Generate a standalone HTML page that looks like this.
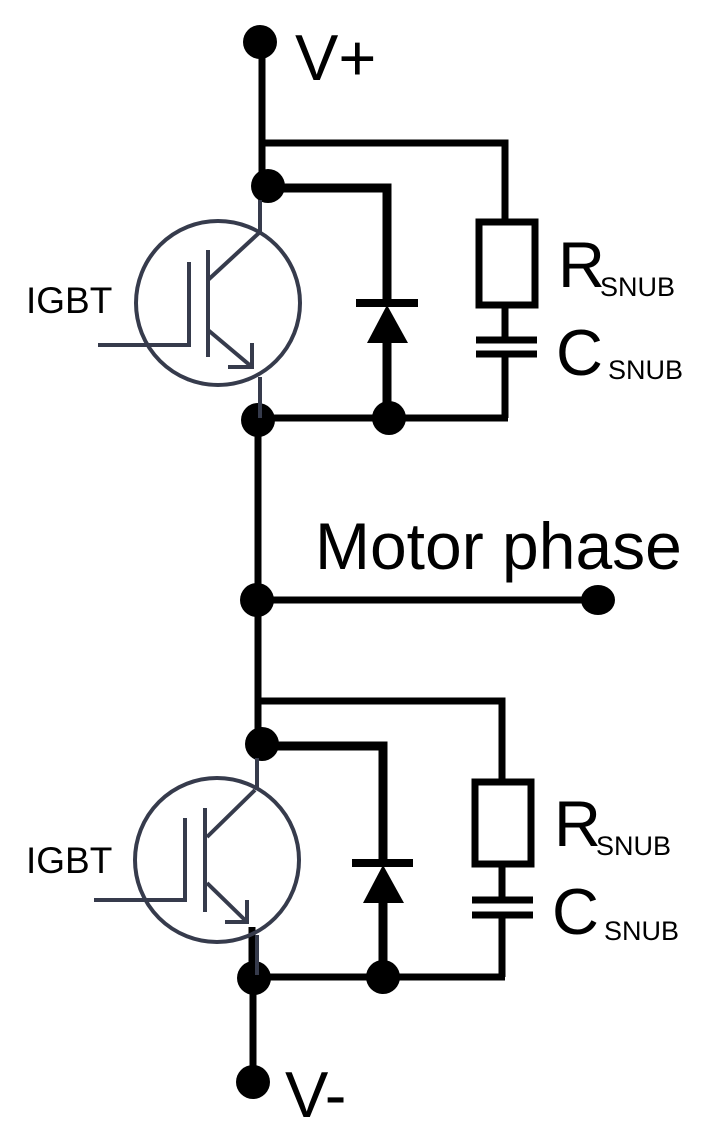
<!DOCTYPE html>
<html><head><style>html,body{margin:0;padding:0;background:#fff;}svg{display:block}</style></head>
<body>
<svg width="717" height="1142" viewBox="0 0 717 1142" xmlns="http://www.w3.org/2000/svg" font-family="Liberation Sans, Arial, sans-serif">
<rect width="717" height="1142" fill="#fff"/>
<g fill="none" stroke="#000" stroke-width="7">
  <line x1="262" y1="42" x2="262" y2="190"/>
  <polyline points="262,143 505,143 505,220"/>
  <rect x="479" y="222" width="56" height="83"/>
  <line x1="505" y1="305" x2="505" y2="340"/>
  <line x1="505" y1="354" x2="505" y2="418"/>
  <line x1="258" y1="418" x2="508" y2="418"/>
  <line x1="258" y1="418" x2="258" y2="745"/>
  <polyline points="266,188 387,188 387,303" stroke-width="9"/>
  <line x1="387" y1="340" x2="387" y2="418" stroke-width="9"/>
  <line x1="356" y1="303" x2="418" y2="303" stroke-width="8"/>
  <line x1="476" y1="340" x2="537" y2="340" stroke-width="7"/>
  <line x1="476" y1="354" x2="537" y2="354" stroke-width="7"/>
</g>
<polygon points="387,305 367,343 408,343" fill="#000"/>
<circle cx="260" cy="42" r="17" fill="#000"/>
<circle cx="268" cy="186" r="17" fill="#000"/>
<circle cx="258" cy="420" r="17" fill="#000"/>
<circle cx="389" cy="418" r="17" fill="#000"/>
<g fill="none" stroke="#363b4c" stroke-width="4">
  <circle cx="218" cy="303" r="82"/>
  <line x1="260" y1="200" x2="260" y2="233"/>
  <line x1="260" y1="377" x2="260" y2="418"/>
  <polyline points="98,345 189,345 189,262"/>
  <line x1="208" y1="250" x2="208" y2="357"/>
  <line x1="208" y1="280" x2="260" y2="232"/>
  <line x1="208" y1="330" x2="252" y2="367"/>
  <polyline points="228,367 252,367 252,343"/>
</g>
<g fill="none" stroke="#000" stroke-width="7">
  <line x1="257" y1="600" x2="598" y2="600"/>
  <polyline points="257,701 502,701 502,780"/>
  <rect x="475" y="782" width="56" height="82"/>
  <line x1="502" y1="864" x2="502" y2="900"/>
  <line x1="502" y1="915" x2="502" y2="977"/>
  <line x1="253" y1="977" x2="505" y2="977"/>
  <line x1="253" y1="977" x2="253" y2="1082"/>
  <polyline points="262,746 383,746 383,863" stroke-width="9"/>
  <line x1="383" y1="900" x2="383" y2="977" stroke-width="9"/>
  <line x1="352" y1="863" x2="413" y2="863" stroke-width="8"/>
  <line x1="472" y1="900" x2="533" y2="900" stroke-width="7"/>
  <line x1="472" y1="915" x2="533" y2="915" stroke-width="7"/>
  <line x1="252" y1="927" x2="252" y2="977" stroke-width="7"/>
</g>
<polygon points="383,865 363,903 404,903" fill="#000"/>
<circle cx="257" cy="600" r="17" fill="#000"/>
<ellipse cx="598" cy="600" rx="17" ry="15" fill="#000"/>
<circle cx="262" cy="744" r="17" fill="#000"/>
<circle cx="254" cy="978" r="17" fill="#000"/>
<circle cx="383" cy="977" r="17" fill="#000"/>
<circle cx="253" cy="1082" r="17" fill="#000"/>
<g fill="none" stroke="#363b4c" stroke-width="4">
  <circle cx="217" cy="860" r="82"/>
  <line x1="257" y1="758" x2="257" y2="790"/>
  <line x1="257" y1="935" x2="257" y2="975"/>
  <polyline points="94,900 185,900 185,818"/>
  <line x1="205" y1="808" x2="205" y2="912"/>
  <line x1="207" y1="837" x2="255" y2="790"/>
  <line x1="207" y1="883" x2="247" y2="922"/>
  <polyline points="225,922 247,922 247,900"/>
</g>
<g fill="#000">
  <text x="295" y="80" font-size="65">V+</text>
  <text x="285" y="1117" font-size="65">V-</text>
  <text x="315" y="569" font-size="66">Motor phase</text>
  <text x="26" y="313" font-size="37">IGBT</text>
  <text x="26" y="873" font-size="37">IGBT</text>
  <text x="558" y="287" font-size="65">R</text>
  <text x="600" y="296" font-size="27">SNUB</text>
  <text x="556" y="375" font-size="65">C</text>
  <text x="608" y="379" font-size="27">SNUB</text>
  <text x="554" y="846" font-size="65">R</text>
  <text x="596" y="855" font-size="27">SNUB</text>
  <text x="552" y="934" font-size="65">C</text>
  <text x="604" y="940" font-size="27">SNUB</text>
</g>
</svg>
</body></html>
